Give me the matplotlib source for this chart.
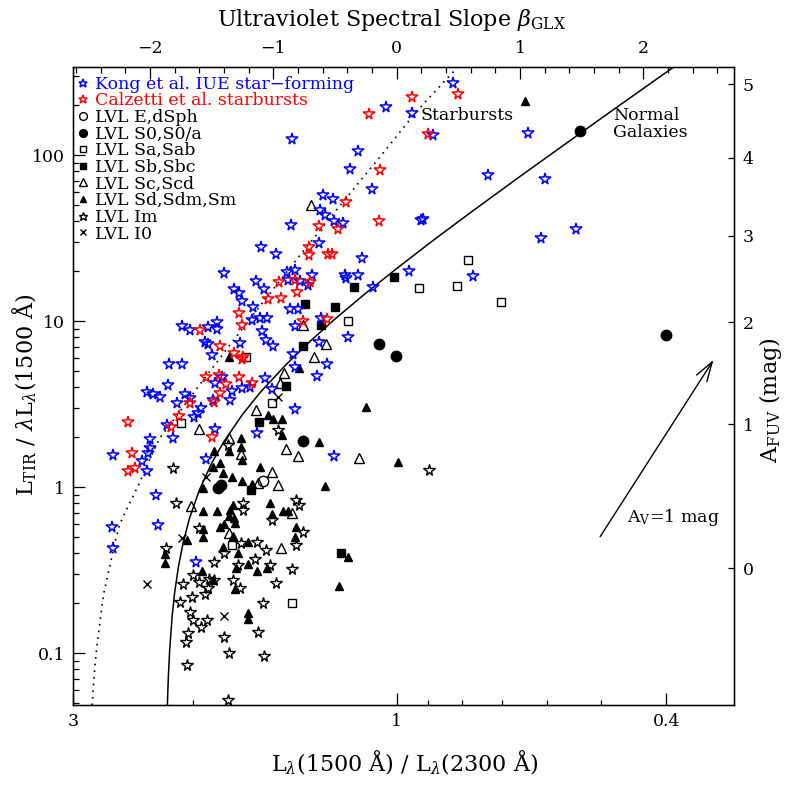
import numpy as np
import matplotlib
matplotlib.use("Agg")
import matplotlib.pyplot as plt
from matplotlib.ticker import FixedLocator, FixedFormatter, NullFormatter, NullLocator, LogLocator

plt.rcParams['font.family'] = ['DejaVu Serif']
plt.rcParams['mathtext.fontset'] = 'dejavuserif'

# ---------------- data (beta_GLX, log10 L_TIR/lambda L_lambda(1500)) ----------------
kong = [(0.459, 2.434), (0.128, 2.255), (0.297, 2.122), (1.067, 2.133), (0.743, 1.881),
        (1.203, 1.855), (0.195, 1.611), (0.210, 1.617), (1.170, 1.500), (1.452, 1.554),
        (0.102, 1.305), (0.616, 1.273), (-0.852, 2.098), (-0.089, 2.293), (-0.311, 2.026),
        (-0.379, 1.916), (-0.203, 1.795), (-0.600, 1.761), (-0.514, 1.735), (-0.622, 1.670),
        (-0.581, 1.640), (-0.509, 1.606), (-0.438, 1.594), (-0.860, 1.580), (-1.103, 1.449),
        (-0.979, 1.405), (-0.633, 1.473), (-0.284, 1.383), (-1.401, 1.293), (-1.141, 1.245),
        (-1.074, 1.193), (-0.892, 1.299), (-0.825, 1.309), (-0.879, 1.249), (-0.784, 1.245),
        (-0.689, 1.279), (-0.717, 1.219), (-0.419, 1.279), (-0.407, 1.264), (-0.311, 1.279),
        (-0.190, 1.205), (-1.320, 1.193), (-1.277, 1.169), (-1.257, 1.124), (-1.165, 1.088),
        (-0.865, 1.072), (-0.798, 1.072), (-1.176, 1.008), (-1.109, 1.018), (-1.054, 1.018),
        (-1.090, 0.942), (-1.062, 0.887), (-1.001, 0.853), (-0.825, 0.972), (-0.616, 1.018),
        (-0.393, 0.904), (-1.744, 0.972), (-1.676, 0.948), (-1.528, 0.967), (-1.460, 0.998),
        (-1.460, 0.952), (-1.555, 0.877), (-1.533, 0.863), (-1.271, 0.871), (-1.496, 0.795),
        (-0.630, 0.877), (-0.839, 0.801), (-0.563, 0.743), (-0.825, 0.727), (-0.649, 0.672),
        (-1.844, 0.743), (-1.739, 0.743), (-1.852, 0.616), (-1.419, 0.666), (-1.474, 0.627),
        (-1.252, 0.596), (-1.190, 0.606), (-1.338, 0.582), (-1.068, 0.657), (-1.014, 0.590),
        (-0.825, 0.472), (-2.028, 0.576), (-1.974, 0.562), (-1.920, 0.546), (-1.717, 0.562),
        (-1.676, 0.536), (-1.784, 0.506), (-1.590, 0.476), (-1.609, 0.446), (-1.642, 0.425),
        (-1.492, 0.526), (-1.352, 0.526), (-1.865, 0.375), (-2.000, 0.291), (-2.000, 0.235),
        (-1.817, 0.295), (-1.474, 0.349), (-1.135, 0.325), (-0.509, 0.189), (-2.298, 0.195),
        (-2.068, 0.160), (-2.015, 0.205), (-2.028, 0.100), (-1.952, -0.046), (-1.938, -0.227),
        (-1.628, -0.448), (-1.549, 0.170), (-2.311, -0.237), (-2.301, -0.367)]

calzetti = [(0.122, 2.349), (0.495, 2.369), (0.256, 2.128), (-0.225, 2.249), (-0.135, 1.911),
            (-0.414, 1.720), (-0.628, 1.574), (-0.474, 1.554), (-0.144, 1.604), (-0.714, 1.449),
            (-0.709, 1.399), (-0.555, 1.405), (-0.522, 1.405), (-0.952, 1.239), (-0.825, 1.249),
            (-0.703, 1.239), (-0.811, 1.175), (-1.046, 1.133), (-0.936, 1.139), (-1.277, 1.048),
            (-1.257, 0.978), (-0.762, 1.004), (-0.563, 1.012), (-1.595, 0.948), (-1.433, 0.853),
            (-1.320, 0.811), (-1.249, 0.787), (-1.252, 0.771), (-1.547, 0.666), (-1.439, 0.677),
            (-1.277, 0.666), (-1.387, 0.620), (-1.176, 0.627), (-1.676, 0.506), (-1.479, 0.512),
            (-1.433, 0.566), (-2.182, 0.395), (-1.830, 0.366), (-1.768, 0.427), (-2.144, 0.205),
            (-1.496, 0.301), (-2.177, 0.100), (-2.122, 0.114)]

lvl_e = [(-1.082, 0.038)]
lvl_s0 = [(1.487, 2.146), (2.184, 0.917), (-0.144, 0.863), (-0.008, 0.793), (-0.760, 0.277),
          (-1.449, -0.004), (-1.425, 0.011)]
lvl_sa = [(0.581, 1.369), (0.181, 1.202), (0.489, 1.214), (0.846, 1.114), (-0.393, 1.004),
          (-1.225, 0.787), (-1.009, 0.506), (-1.752, 0.386), (-1.333, -0.348), (-0.852, -0.699)]
lvl_sb = [(-0.019, 1.269), (-0.346, 1.205), (-0.741, 1.102), (-0.500, 1.088), (-0.616, 0.978),
          (-0.757, 0.853), (-0.900, 0.612), (-1.117, 0.395), (-1.182, -0.016), (-0.454, -0.398)]
lvl_sc = [(-0.697, 1.702), (-0.762, 0.978), (-0.573, 0.863), (-0.668, 0.783), (-0.914, 0.687),
          (-0.946, 0.627), (-1.603, 0.349), (-1.144, 0.466), (-1.358, 0.299), (-0.898, 0.229),
          (-0.798, 0.189), (-0.308, 0.177), (-1.014, 0.094), (-0.960, 0.014), (-1.122, 0.024),
          (-1.668, -0.113), (-1.358, -0.277), (-0.938, -0.364), (-0.852, -0.153), (-1.265, 0.201)]
lvl_sd = [(1.041, 2.329), (-0.249, 0.486), (-0.792, 0.717), (-1.360, 0.787), (-1.041, 0.436),
          (-1.006, 0.411), (-0.933, 0.411), (-0.928, 0.315), (-0.630, 0.275), (-1.482, 0.220),
          (-1.358, 0.220), (-1.263, 0.295), (-1.263, 0.245), (-1.257, 0.164), (-1.433, 0.145),
          (-1.487, 0.120), (-1.411, 0.084), (-1.338, 0.060), (-1.569, -0.006), (-1.253, 0.040),
          (-1.176, 0.020), (-1.109, 0.124), (-1.028, -0.096), (-1.009, -0.161), (-0.920, -0.143),
          (-0.879, -0.143), (-0.582, 0.008), (0.008, 0.151), (-1.460, -0.141), (-1.573, -0.143),
          (-1.352, -0.137), (-1.358, -0.173), (-1.325, -0.107), (-1.317, -0.187), (-1.311, -0.217),
          (-1.433, -0.241), (-1.401, -0.221), (-1.569, -0.253), (-1.569, -0.301), (-1.411, -0.358),
          (-1.325, -0.293), (-1.285, -0.398), (-1.204, -0.328), (-1.204, -0.462), (-1.131, -0.502),
          (-1.054, -0.488), (-1.303, -0.488), (-1.576, -0.504), (-1.492, -0.558), (-1.311, -0.613),
          (-0.817, -0.241), (-0.825, -0.298), (-1.879, -0.404), (-1.879, -0.454), (-1.703, -0.317),
          (-1.208, -0.755), (-1.208, -0.793), (-0.466, -0.593), (-0.397, -0.422)]
lvl_im = [(-0.960, 0.345), (-1.812, 0.114), (-1.790, -0.096), (-1.603, -0.247), (-1.871, -0.367),
          (-1.650, -0.528), (-1.731, -0.583), (-1.603, -0.572), (-1.520, -0.554), (-1.479, -0.558),
          (-1.528, -0.608), (-1.555, -0.645), (-1.757, -0.693), (-1.663, -0.659), (-1.676, -0.753),
          (-1.655, -0.799), (-1.536, -0.799), (-1.590, -0.840), (-1.690, -0.880), (-1.709, -0.930),
          (-1.698, -1.070), (-1.398, -0.904), (-1.360, -1.000), (-1.076, -1.014), (-1.122, -0.870),
          (-1.087, -0.695), (-0.979, -0.575), (-0.847, -0.492), (-0.819, -0.348), (-0.762, -0.267),
          (-0.819, -0.077), (-0.790, -0.107), (-1.014, -0.197), (-1.244, -0.096), (-1.249, -0.137),
          (-1.135, -0.328), (-1.062, -0.378), (-1.149, -0.432), (-1.028, -0.468), (-1.285, -0.468),
          (-1.325, -0.558), (-1.271, -0.608), (-1.479, -0.448), (-1.366, -1.281), (-1.366, 0.255),
          (-1.265, -0.337), (-1.401, -0.398), (0.262, 0.104)]
lvl_i0 = [(-0.960, 0.546), (-1.547, 0.060), (-1.744, -0.307), (-2.023, -0.583), (-1.398, -0.773)]

# model curves (beta, log10 IRX)
starburst_curve = [(-2.473, -1.353), (-2.459, -1.203), (-2.447, -1.083), (-2.431, -0.962),
                   (-2.410, -0.842), (-2.390, -0.721), (-2.374, -0.637), (-2.351, -0.559),
                   (-2.325, -0.474), (-2.301, -0.390), (-2.277, -0.311), (-2.244, -0.221),
                   (-2.196, -0.143), (-2.139, -0.058), (-2.082, 0.032), (-2.025, 0.128),
                   (-1.968, 0.225), (-1.920, 0.297), (-1.798, 0.417), (-1.595, 0.620),
                   (-1.190, 1.015), (-0.784, 1.398), (-0.460, 1.697), (-0.136, 1.990),
                   (0.164, 2.267), (0.351, 2.417), (0.497, 2.534), (0.530, 2.562)]
normal_curve = [(-1.860, -1.354), (-1.8586, -1.311), (-1.855, -1.224), (-1.850, -1.125),
                (-1.840, -0.977), (-1.820, -0.775), (-1.800, -0.635), (-1.770, -0.481),
                (-1.730, -0.330), (-1.680, -0.188), (-1.600, -0.017), (-1.500, 0.145),
                (-1.400, 0.276), (-1.250, 0.439), (-1.100, 0.577), (-0.900, 0.737),
                (-0.700, 0.881), (-0.500, 1.014), (-0.250, 1.170), (0.000, 1.318),
                (0.300, 1.490), (0.600, 1.656), (1.000, 1.873), (1.400, 2.086),
                (1.800, 2.298), (2.200, 2.508), (2.350, 2.586)]

av_arrow = [(1.649, -0.298), (2.568, 0.767)]   # A_V = 1 mag reddening vector

# Buat et al. polynomial for A_FUV(IRX)
afuv_coeffs = [-0.0333, 0.3522, 1.1960, 0.4967]
afuv_ticks = [0, 1, 2, 3, 4, 5]

BETA_DEX = 0.182  # decades of L1500/L2300 per unit of beta
XLIM = (3.0, 0.3176)
YLIM = (0.0488, 342)


def b2r(b):
    return 10.0 ** (-BETA_DEX * np.asarray(b, dtype=float))


def r2b(r):
    return -np.log10(np.asarray(r, dtype=float)) / BETA_DEX


def xy(pairs):
    a = np.array(pairs, dtype=float)
    return b2r(a[:, 0]), 10.0 ** a[:, 1]


fig = plt.figure(figsize=(7.89, 7.89), dpi=100)
W = H = 789.0
ax = fig.add_axes([73.3 / W, 1 - 705 / H, (734.3 - 73.3) / W, (705 - 66.7) / H])
ax.set_xscale('log')
ax.set_yscale('log')
ax.set_xlim(*XLIM)
ax.set_ylim(*YLIM)

# curves
x, y = xy(starburst_curve)
ax.plot(x, y, color='k', lw=1.2, ls=(0, (1, 3)))
x, y = xy(normal_curve)
ax.plot(x, y, color='k', lw=1.1)

series = [
    (kong, dict(marker='*', mfc='none', mec='blue', ms=8.5, mew=1.1), 'Kong et al. IUE star\u2212forming', 'blue'),
    (calzetti, dict(marker='*', mfc='none', mec='red', ms=8.5, mew=1.1), 'Calzetti et al. starbursts', 'red'),
    (lvl_e, dict(marker='o', mfc='none', mec='k', ms=7.5, mew=1.0), 'LVL E,dSph', 'black'),
    (lvl_s0, dict(marker='o', mfc='k', mec='k', ms=7.5, mew=1.0), 'LVL S0,S0/a', 'black'),
    (lvl_sa, dict(marker='s', mfc='none', mec='k', ms=5.5, mew=1.0), 'LVL Sa,Sab', 'black'),
    (lvl_sb, dict(marker='s', mfc='k', mec='k', ms=5.5, mew=1.0), 'LVL Sb,Sbc', 'black'),
    (lvl_sc, dict(marker='^', mfc='none', mec='k', ms=6.8, mew=1.0), 'LVL Sc,Scd', 'black'),
    (lvl_sd, dict(marker='^', mfc='k', mec='k', ms=6.0, mew=1.0), 'LVL Sd,Sdm,Sm', 'black'),
    (lvl_im, dict(marker='*', mfc='none', mec='k', ms=8.5, mew=1.0), 'LVL Im', 'black'),
    (lvl_i0, dict(marker='x', color='k', ms=6, mew=1.0), 'LVL I0', 'black'),
]
draw_order = [2, 3, 4, 5, 6, 7, 8, 9, 0, 1]
hmap = {}
for i in draw_order:
    pts, kw, lab, col = series[i]
    x, y = xy(pts)
    ln, = ax.plot(x, y, ls='none', **kw)
    hmap[i] = ln
handles = [hmap[i] for i in range(len(series))]
labels = [s[2] for s in series]
lcolors = [s[3] for s in series]

leg = ax.legend(handles, labels, loc='upper left', bbox_to_anchor=(0.006, 0.986),
                frameon=False, fontsize=12.5, handlelength=0.7, handletextpad=0.35,
                labelspacing=-0.02, borderpad=0.0, borderaxespad=0.0, markerscale=0.75,
                labelcolor=lcolors)

# annotations
(a0b, a0l), (a1b, a1l) = av_arrow
ax.annotate('', xy=(b2r(a1b), 10 ** a1l), xytext=(b2r(a0b), 10 ** a0l),
            arrowprops=dict(arrowstyle='->,head_length=0.7,head_width=0.22', lw=1.0,
                            color='k', shrinkA=0, shrinkB=0, mutation_scale=20))
ax.text(b2r(1.865), 10 ** -0.179, 'A$_{\\rm V}$=1 mag', fontsize=12.5, ha='left', va='center')
ax.text(b2r(0.195), 10 ** 2.243, 'Starbursts', fontsize=12.5, ha='left', va='center')
ax.text(b2r(1.757), 10 ** 2.189, 'Normal\nGalaxies', fontsize=12.5, ha='left', va='center',
        linespacing=1.05)

# bottom axis
ax.xaxis.set_major_locator(FixedLocator([3, 1, 0.4]))
ax.xaxis.set_major_formatter(FixedFormatter(['3', '1', '0.4']))
ax.xaxis.set_minor_locator(FixedLocator([2, 0.9, 0.8, 0.7, 0.6, 0.5]))
ax.xaxis.set_minor_formatter(NullFormatter())
# left axis
ax.yaxis.set_major_locator(FixedLocator([0.1, 1, 10, 100]))
ax.yaxis.set_major_formatter(FixedFormatter(['0.1', '1', '10', '100']))
ax.yaxis.set_minor_locator(LogLocator(base=10, subs=np.arange(2, 10)))
ax.yaxis.set_minor_formatter(NullFormatter())
ax.tick_params(which='both', direction='in', top=False, right=False, labelsize=12.5, width=0.9)
ax.tick_params(axis='y', which='major', length=8.4, pad=6)
ax.tick_params(axis='y', which='minor', length=4.3)
ax.tick_params(axis='x', which='major', length=8.5, pad=6)
ax.tick_params(axis='x', which='minor', length=3.8)
for s in ax.spines.values():
    s.set_linewidth(1.0)

# top axis: beta (linear in beta == log in flux ratio)
ax3 = ax.twiny()
ax3.set_xlim(float(r2b(XLIM[0])), float(r2b(XLIM[1])))
ax3.xaxis.set_major_locator(FixedLocator([-2, -1, 0, 1, 2]))
ax3.xaxis.set_major_formatter(FixedFormatter(['\u22122', '\u22121', '0', '1', '2']))
ax3.xaxis.set_minor_locator(FixedLocator(np.round(np.arange(-2.6, 2.81, 0.2), 1)))
ax3.tick_params(which='both', direction='in', labelsize=12.5, width=0.9, bottom=False)
ax3.tick_params(which='major', length=8.5, pad=7)
ax3.tick_params(which='minor', length=4.5)

# right axis: A_FUV
ax2 = ax.twinx()
ax2.set_yscale('log')
ax2.set_ylim(*YLIM)
pos = []
for A in afuv_ticks:
    c = list(afuv_coeffs)
    c[-1] -= A
    roots = np.roots(c)
    real = [r.real for r in roots if abs(r.imag) < 1e-9 and -1.4 < r.real < 3.5]
    pos.append(10 ** real[0])
ax2.yaxis.set_major_locator(FixedLocator(pos))
ax2.yaxis.set_major_formatter(FixedFormatter([str(a) for a in afuv_ticks]))
ax2.yaxis.set_minor_locator(NullLocator())
ax2.tick_params(which='both', direction='in', length=4.3, labelsize=12.5, width=0.9, pad=6)

# axis titles
fig.text(405 / W, 1 - 763 / H, 'L$_\\lambda$(1500 Å) / L$_\\lambda$(2300 Å)', fontsize=16,
         ha='center', va='center')
fig.text(392 / W, 1 - 20 / H, 'Ultraviolet Spectral Slope $\\beta_{\\rm GLX}$', fontsize=16,
         ha='center', va='center')
fig.text(25 / W, 1 - 395 / H, 'L$_{\\rm TIR}$ / $\\lambda$L$_\\lambda$(1500 Å)', fontsize=16,
         ha='center', va='center', rotation=90)
fig.text(770 / W, 1 - 400 / H, 'A$_{\\rm FUV}$ (mag)', fontsize=16, ha='center', va='center',
         rotation=90)

fig.savefig('out.png', dpi=100)
